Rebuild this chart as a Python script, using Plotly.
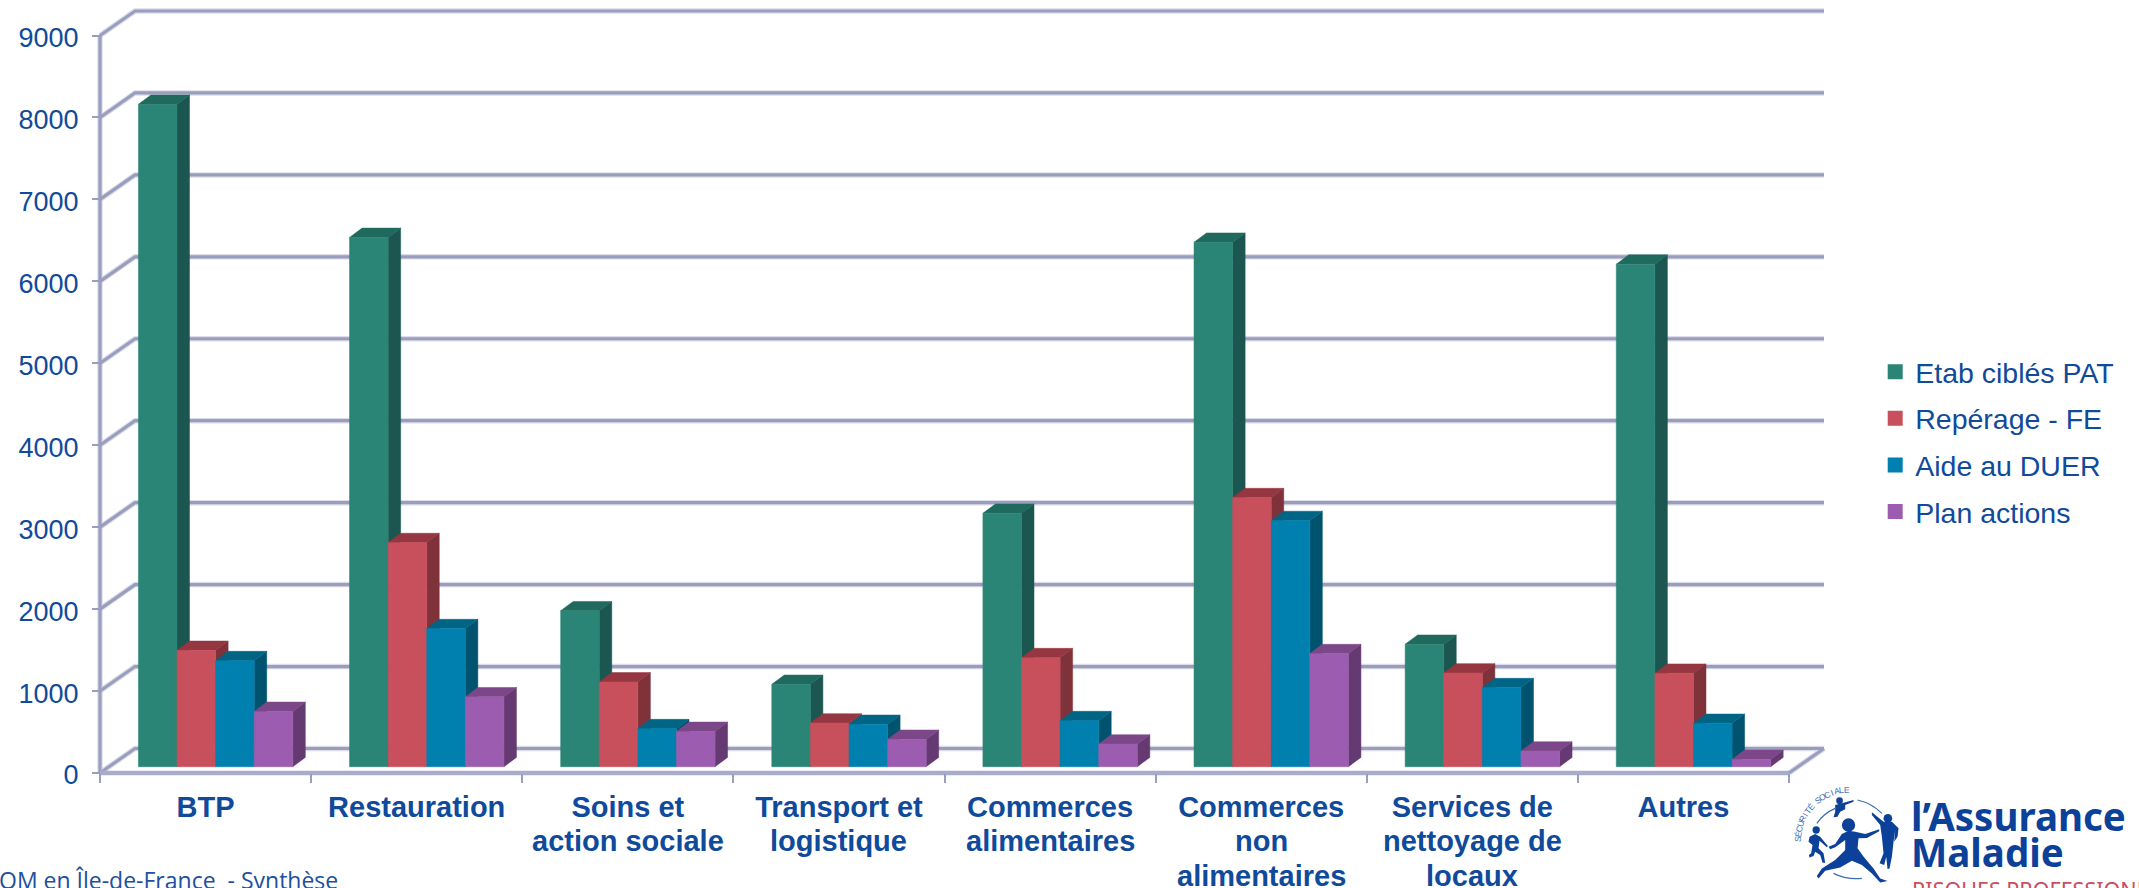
import math
import plotly.graph_objects as go

category_lines = [["BTP"], ["Restauration"], ["Soins et", "action sociale"], ["Transport et", "logistique"],
                  ["Commerces", "alimentaires"], ["Commerces", "non", "alimentaires"],
                  ["Services de", "nettoyage de", "locaux"], ["Autres"]]
etab_cibles_pat = [8083, 6459, 1903, 1005, 3093, 6400, 1494, 6133]
reperage_fe = [1420, 2735, 1035, 533, 1331, 3284, 1144, 1140]
aide_au_duer = [1294, 1685, 464, 517, 562, 3004, 965, 529]
plan_actions = [675, 853, 431, 334, 277, 1380, 191, 90]
y_ticks = [0, 1000, 2000, 3000, 4000, 5000, 6000, 7000, 8000, 9000]

series_names = ["Etab ciblés PAT", "Repérage - FE", "Aide au DUER", "Plan actions"]
series_values = [etab_cibles_pat, reperage_fe, aide_au_duer, plan_actions]
front_colors = ["#2a8576", "#c84f5c", "#0080ae", "#9c5db0"]
side_colors = ["#1b5650", "#7f323a", "#00536f", "#653a72"]
top_colors = ["#1f6a5d", "#953640", "#006585", "#7c4788"]

W, H = 2139, 888
X0, PX_PER_CAT = 100.0, 211.1
Y0, PX_PER_UNIT = 773.0, 0.0819
WALL_DX, WALL_DY = 35 / PX_PER_CAT, 24.5 / PX_PER_UNIT   # depth of the floor
BAR_DX, BAR_DY = 12.5 / PX_PER_CAT, 9.3 / PX_PER_UNIT    # depth of one bar
BAR_W = 38.6 / PX_PER_CAT
GROUP_START = 38.4 / PX_PER_CAT
BAR_BASE = 6.3 / PX_PER_UNIT
N = len(category_lines)
X_TOP = N + WALL_DX
Y_TOP = y_ticks[-1] + WALL_DY
# the plotting area is a little larger than the walls so no line gets cropped
X_PAD, Y_PAD = 8 / PX_PER_CAT, 8 / PX_PER_UNIT
PLOT_L = X0 - 8
PLOT_R = X0 + (X_TOP + X_PAD) * PX_PER_CAT
PLOT_B = Y0 + 8
PLOT_T = Y0 - (Y_TOP + Y_PAD) * PX_PER_UNIT
INK = "#0f4a9b"
GRID = "#9a9ebe"


def gap_join(polys):
    xs, ys = [], []
    for p in polys:
        xs += [q[0] for q in p] + [None]
        ys += [q[1] for q in p] + [None]
    return xs, ys


def paper_x(px):
    return (px - PLOT_L) / (PLOT_R - PLOT_L)


def paper_y(py):
    return (PLOT_B - py) / (PLOT_B - PLOT_T)


fig = go.Figure()

# walls and floor
grid_lines = [[(0, v), (WALL_DX, v + WALL_DY), (X_TOP, v + WALL_DY)] for v in y_ticks]
grid_lines.append([(0, y_ticks[0]), (0, y_ticks[-1])])
grid_lines.append([(N, 0), (X_TOP, WALL_DY)])
gx, gy = gap_join(grid_lines)
fig.add_trace(go.Scatter(x=gx, y=gy, mode="lines", line=dict(color="#dcdde8", width=5.5),
                         showlegend=False, hoverinfo="skip", cliponaxis=False))
fig.add_trace(go.Scatter(x=gx, y=gy, mode="lines", line=dict(color=GRID, width=3.2),
                         showlegend=False, hoverinfo="skip", cliponaxis=False))
fig.add_trace(go.Scatter(x=[0, N], y=[0, 0], mode="lines", line=dict(color="#a8acca", width=4.5),
                         showlegend=False, hoverinfo="skip", cliponaxis=False))

# 3D bars built from the values, series by series from left to right
for s, (name, vals) in enumerate(zip(series_names, series_values)):
    fronts, sides, tops = [], [], []
    for c, v in enumerate(vals):
        xl = c + GROUP_START + s * BAR_W
        xr = xl + BAR_W
        b, t = BAR_BASE, BAR_BASE + v
        fronts.append([(xl, b), (xr, b), (xr, t), (xl, t), (xl, b)])
        sides.append([(xr, b), (xr + BAR_DX, b + BAR_DY), (xr + BAR_DX, t + BAR_DY), (xr, t), (xr, b)])
        tops.append([(xl, t), (xr, t), (xr + BAR_DX, t + BAR_DY), (xl + BAR_DX, t + BAR_DY), (xl, t)])
    for polys, col in ((sides, side_colors[s]), (tops, top_colors[s]), (fronts, front_colors[s])):
        px, py = gap_join(polys)
        fig.add_trace(go.Scatter(x=px, y=py, mode="lines", fill="toself", fillcolor=col,
                                 line=dict(color=col, width=0.5), showlegend=False,
                                 name=name, cliponaxis=False, hoverinfo="skip"))

# legend entries
for s, name in enumerate(series_names):
    fig.add_trace(go.Scatter(x=[None], y=[None], mode="markers", name=name, legendgroup=name,
                             marker=dict(symbol="square", size=15, color=front_colors[s])))

annotations = [
    dict(text="OM en Île-de-France  - Synthèse", x=paper_x(340), y=paper_y(898), xref="paper", yref="paper",
         xanchor="right", yanchor="bottom", showarrow=False,
         font=dict(family="Open Sans", size=23, color="#1c50a0")),
    dict(text="l’Assurance", x=paper_x(1909), y=paper_y(844), xref="paper", yref="paper",
         xanchor="left", yanchor="bottom", showarrow=False,
         font=dict(family="Noto Sans", size=38.5, color="#0c419a", weight=700)),
    dict(text="Maladie", x=paper_x(1909), y=paper_y(880), xref="paper", yref="paper",
         xanchor="left", yanchor="bottom", showarrow=False,
         font=dict(family="Noto Sans", size=38.5, color="#0c419a", weight=700)),
    dict(text="RISQUES PROFESSIONNELS", x=paper_x(1910), y=paper_y(906), xref="paper", yref="paper",
         xanchor="left", yanchor="bottom", showarrow=False,
         font=dict(family="Noto Sans", size=21.5, color="#c84f5c")),
]

# continuation lines of the category labels
LABEL_LINE = 34.6
LABEL_FIRST = 806.5
for c, lines in enumerate(category_lines):
    for j, line in enumerate(lines[1:], start=1):
        annotations.append(dict(text=line, x=c + 0.5, xref="x", y=paper_y(LABEL_FIRST + j * LABEL_LINE), yref="paper",
                                xanchor="center", yanchor="middle", showarrow=False,
                                font=dict(family="Liberation Sans", size=29, color=INK, weight=700)))


# logo: arced wording, letter by letter
def zx(v):
    return 1780 + v / 3


def zy(v):
    return 770 + v / 3


arc_text = "SÉCURITÉ SOCIALE"
for i, ch in enumerate(arc_text):
    if ch == " ":
        continue
    theta = 178 - i * (178 - 92) / (len(arc_text) - 1)
    cx = 205 + 152 * math.cos(math.radians(theta))
    cy = 212 - 152 * math.sin(math.radians(theta))
    annotations.append(dict(text=ch, x=paper_x(zx(cx)), y=paper_y(zy(cy)), xref="paper", yref="paper",
                            xanchor="center", yanchor="middle", showarrow=False, textangle=90 - theta,
                            font=dict(family="Liberation Sans", size=8.5, color="#3a6cb0")))


def path_from(points):
    return "M" + " L".join(f"{paper_x(zx(a)):.5f},{paper_y(zy(b)):.5f}" for a, b in points) + " Z"


def open_curve(p0, p1, p2):
    f = lambda q: f"{paper_x(zx(q[0])):.5f},{paper_y(zy(q[1])):.5f}"
    return f"M{f(p0)} Q{f(p1)} {f(p2)}"


LOGO = "#0c419a"
bodies = [
    [(145, 230), (165, 222), (185, 192), (205, 182), (225, 185), (255, 192), (297, 178), (297, 184), (260, 204),
     (235, 205), (232, 235), (252, 262), (280, 295), (300, 325), (322, 333), (300, 337), (275, 310), (245, 285),
     (215, 272), (180, 292), (135, 302), (115, 325), (110, 318), (125, 295), (165, 270), (195, 240), (195, 210),
     (165, 232), (150, 238)],
    [(88, 200), (105, 192), (120, 200), (143, 228), (140, 232), (118, 212), (115, 235), (130, 250), (135, 278),
     (127, 278), (120, 255), (105, 245), (100, 258), (88, 262), (86, 255), (93, 250), (97, 225), (85, 215)],
    [(275, 127), (310, 155), (335, 155), (355, 175), (352, 200), (342, 215), (345, 180), (340, 215), (335, 260),
     (328, 295), (322, 297), (318, 260), (312, 285), (298, 280), (310, 250), (305, 200), (300, 165), (275, 135)],
    [(165, 105), (185, 100), (220, 90), (220, 95), (195, 105), (195, 118), (180, 125), (172, 140), (160, 142),
     (165, 125), (165, 115)],
]
heads = [(205, 165, 20), (108, 180, 11), (323, 145, 13), (178, 92, 10)]
arcs = [((110, 160), (130, 130), (165, 115)), ((232, 90), (275, 100), (305, 130)), ((160, 310), (200, 330), (245, 325))]

shapes = []
for b in bodies:
    shapes.append(dict(type="path", xref="paper", yref="paper", path=path_from(b), fillcolor=LOGO, line_width=0))
for hx, hy, r in heads:
    shapes.append(dict(type="circle", xref="paper", yref="paper", x0=paper_x(zx(hx - r)), x1=paper_x(zx(hx + r)),
                       y0=paper_y(zy(hy + r)), y1=paper_y(zy(hy - r)), fillcolor=LOGO, line_width=0))
for a in arcs:
    shapes.append(dict(type="path", xref="paper", yref="paper", path=open_curve(*a),
                       line=dict(color="#3a6cb0", width=1.2)))

fig.update_layout(
    width=W, height=H, autosize=False,
    margin=dict(l=PLOT_L, r=W - PLOT_R, t=PLOT_T, b=H - PLOT_B, pad=0),
    paper_bgcolor="white", plot_bgcolor="rgba(0,0,0,0)",
    font=dict(family="Liberation Sans", color=INK),
    showlegend=True,
    legend=dict(x=paper_x(1875), y=paper_y(347), xanchor="left", yanchor="top",
                font=dict(family="Liberation Sans", size=28.5, color=INK),
                tracegroupgap=6.5, bgcolor="rgba(0,0,0,0)", itemclick=False, itemdoubleclick=False),
    xaxis=dict(range=[-8 / PX_PER_CAT, X_TOP + X_PAD], showgrid=False, zeroline=False, showline=False,
               fixedrange=True, anchor="free", position=paper_y(Y0),
               tickmode="array", tickvals=[i + 0.5 for i in range(N)],
               ticktext=[lines[0] for lines in category_lines], ticks="", ticklabelstandoff=14,
               tickfont=dict(family="Liberation Sans", size=29, color=INK, weight=700),
               minor=dict(ticks="outside", tick0=0, dtick=1, ticklen=9, tickwidth=1.5, tickcolor=GRID),
               automargin=False),
    yaxis=dict(range=[-8 / PX_PER_UNIT, Y_TOP + Y_PAD], showgrid=False, zeroline=False, showline=False,
               fixedrange=True, anchor="free", position=paper_x(X0),
               tickmode="array", tickvals=y_ticks, ticks="outside", ticklen=8, tickwidth=2, tickcolor=GRID,
               ticklabelstandoff=8, ticklabelshift=2,
               tickfont=dict(family="Liberation Sans", size=27, color=INK), automargin=False),
    annotations=annotations, shapes=shapes,
)

fig.write_html("out.html", config=dict(displayModeBar=False),
               post_script="document.body.style.margin='0';document.documentElement.style.overflow='hidden';")
